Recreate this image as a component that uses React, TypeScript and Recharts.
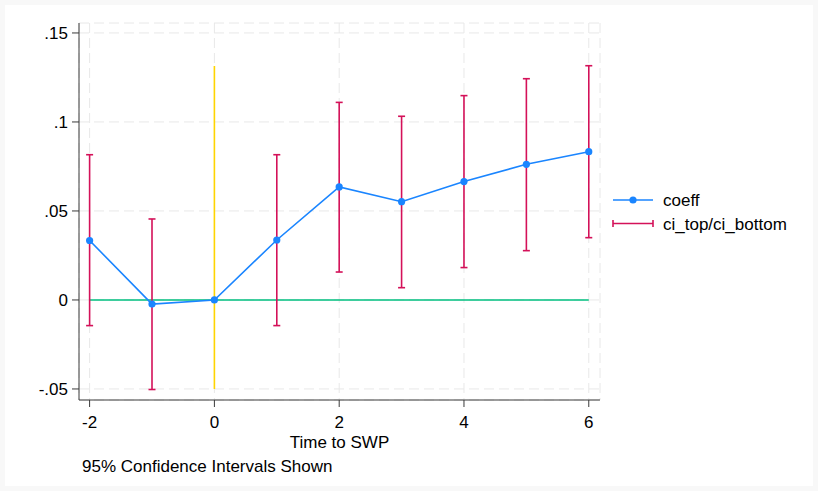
import {
  CartesianGrid,
  ComposedChart,
  ErrorBar,
  Legend,
  Line,
  Scatter,
  XAxis,
  YAxis,
} from 'recharts';

const periods = [-2, -1, 0, 1, 2, 3, 4, 5, 6];
const coeff = [0.0334, -0.0023, 0, 0.0337, 0.0635, 0.0552, 0.0665, 0.0762, 0.0833];
const ciTop = [0.0816, 0.0455, null, 0.0816, 0.111, 0.1032, 0.1148, 0.1243, 0.1316];
const ciBottom = [-0.0144, -0.0503, null, -0.0144, 0.0157, 0.0069, 0.0182, 0.0277, 0.035];

const zeroLine = [
  { x: -2, y: 0 },
  { x: 6, y: 0 },
];
const eventLine = [
  { x: 0, y: -0.05 },
  { x: 0, y: 0.1315 },
];

const xTicks = [-2, 0, 2, 4, 6];
const yTicks = [-0.05, 0, 0.05, 0.1, 0.15];
const yTickLabels = ['-.05', '0', '.05', '.1', '.15'];

const BLUE = '#1a85ff';
const CRIMSON = '#d41159';
const GREEN = '#00bf7f';
const YELLOW = '#ffd400';
const FONT = '"Liberation Sans", Arial, sans-serif';
const FS = 17;

const coeffData = periods.map((x, i) => ({ x, coeff: coeff[i] }));
const ciData = periods
  .map((x, i) => ({ x, coeff: coeff[i], top: ciTop[i], bottom: ciBottom[i] }))
  .filter((d) => d.top != null && d.bottom != null)
  .map((d) => ({
    x: d.x,
    coeff: d.coeff,
    err: [d.coeff - (d.bottom as number), (d.top as number) - d.coeff],
  }));

function LegendBox() {
  return (
    <svg width={210} height={50} style={{ display: 'block' }}>
      <line x1={8} y1={12} x2={48} y2={12} stroke={BLUE} strokeWidth={1.6} />
      <circle cx={28} cy={12} r={3.6} fill={BLUE} />
      <text x={58} y={18} fontSize={FS} fontFamily={FONT} fill="#000">
        coeff
      </text>
      <line x1={8} y1={35.5} x2={48} y2={35.5} stroke={CRIMSON} strokeWidth={1.6} />
      <line x1={8} y1={32} x2={8} y2={39} stroke={CRIMSON} strokeWidth={1.6} />
      <line x1={48} y1={32} x2={48} y2={39} stroke={CRIMSON} strokeWidth={1.6} />
      <text x={58} y={42} fontSize={FS} fontFamily={FONT} fill="#000">
        ci_top/ci_bottom
      </text>
    </svg>
  );
}

export default function App() {
  return (
    <div
      style={{
        position: 'absolute',
        left: 0,
        top: 0,
        width: 818,
        height: 491,
        background: '#f8f8f8',
        fontFamily: FONT,
      }}
    >
      <div
        style={{
          position: 'absolute',
          left: 5,
          top: 5,
          width: 808,
          height: 481,
          background: '#fff',
        }}
      />
      <div style={{ position: 'absolute', left: 0, top: 0 }}>
        <ComposedChart
          width={818}
          height={491}
          margin={{ top: 23, right: 218, bottom: 61, left: 0 }}
        >
          <CartesianGrid
            stroke="#e8e8e8"
            strokeDasharray="10 5"
            vertical
            horizontal
          />
          <XAxis
            type="number"
            dataKey="x"
            domain={[-2.17, 6.18]}
            ticks={xTicks}
            allowDataOverflow
            height={30}
            tickSize={7}
            tickMargin={9}
            stroke="#3a3a3a"
            tick={{ fill: '#000', fontSize: FS, fontFamily: FONT }}
          />
          <YAxis
            type="number"
            domain={[-0.0562, 0.1556]}
            ticks={yTicks}
            allowDataOverflow
            width={79}
            tickSize={7}
            tickMargin={4}
            stroke="#3a3a3a"
            tickFormatter={(v: number) => yTickLabels[yTicks.indexOf(v)] ?? String(v)}
            tick={{ fill: '#000', fontSize: FS, fontFamily: FONT }}
          />
          <Line
            data={zeroLine}
            dataKey="y"
            stroke={GREEN}
            strokeWidth={1.6}
            dot={false}
            activeDot={false}
            isAnimationActive={false}
            legendType="none"
          />
          <Line
            data={eventLine}
            dataKey="y"
            stroke={YELLOW}
            strokeWidth={1.6}
            dot={false}
            activeDot={false}
            isAnimationActive={false}
            legendType="none"
          />
          <Scatter
            data={ciData}
            dataKey="coeff"
            shape={() => <g />}
            isAnimationActive={false}
            legendType="none"
          >
            <ErrorBar
              dataKey="err"
              direction="y"
              width={3.5}
              stroke={CRIMSON}
              strokeWidth={1.6}
              isAnimationActive={false}
            />
          </Scatter>
          <Line
            data={coeffData}
            dataKey="coeff"
            stroke={BLUE}
            strokeWidth={1.6}
            dot={{ r: 3.6, fill: BLUE, stroke: BLUE, strokeWidth: 0 }}
            activeDot={false}
            isAnimationActive={false}
          />
          <Legend
            layout="vertical"
            align="center"
            verticalAlign="middle"
            wrapperStyle={{ left: 605, top: 188, width: 210 }}
            content={() => <LegendBox />}
          />
        </ComposedChart>
      </div>
      <svg
        width={818}
        height={491}
        style={{ position: 'absolute', left: 0, top: 0, pointerEvents: 'none' }}
      >
        <text x={339.5} y={448} textAnchor="middle" fontSize={FS} fontFamily={FONT} fill="#000">
          Time to SWP
        </text>
        <text x={82} y={472} fontSize={FS} fontFamily={FONT} fill="#000">
          95% Confidence Intervals Shown
        </text>
      </svg>
    </div>
  );
}
